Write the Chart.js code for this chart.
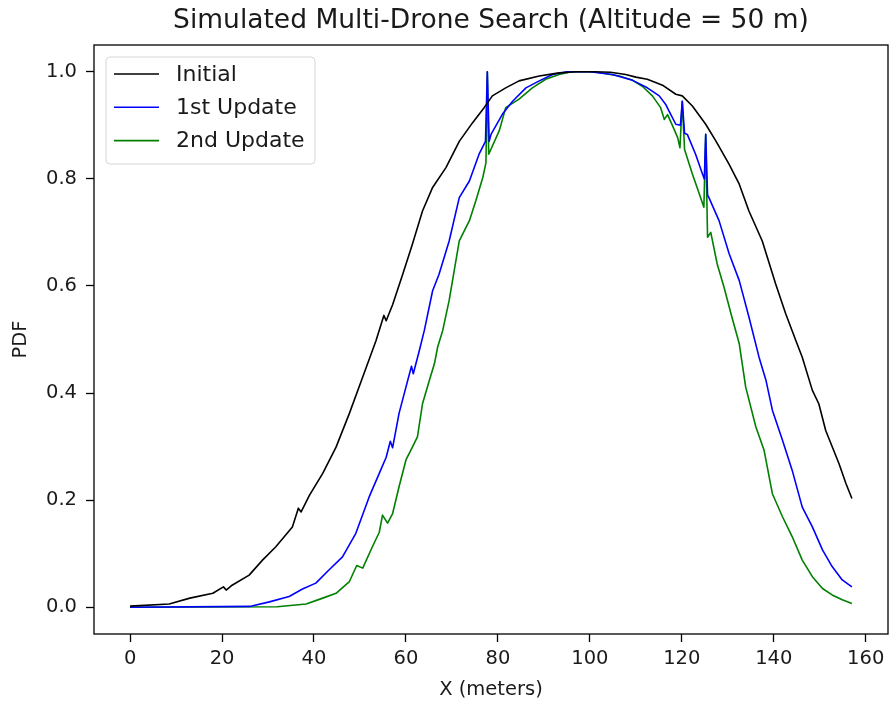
<!DOCTYPE html>
<html>
<head>
<meta charset="utf-8">
<script src="https://cdn.jsdelivr.net/npm/chart.js@4.4.1/dist/chart.umd.min.js"></script>
<style>
  html, body { margin: 0; padding: 0; background: #fff; }
  #wrap { width: 891px; height: 711px; }
</style>
</head>
<body>
<div id="wrap"><canvas id="chart" width="891" height="711"></canvas></div>
<script>
const titleText = "Simulated Multi-Drone Search (Altitude = 50 m)";
const seriesLabels = ["Initial", "1st Update", "2nd Update"];
const xTicks = [0, 20, 40, 60, 80, 100, 120, 140, 160];
const yTicks = [0, 0.2, 0.4, 0.6, 0.8, 1.0];

// Initial (black)
const initialX = [0, 8.5, 13, 18, 20.3, 20.9, 22, 25.9, 28.8, 31.7, 35.3, 36.6, 37.2, 39, 41.9, 44.8,
  47.7, 50.6, 53.5, 55.2, 55.7, 57.1, 59.3, 61.4, 63.6, 65.8, 68.7, 71.6, 74.5, 77, 78.8, 81.7,
  84.6, 89, 93.3, 97, 101, 104.5, 107.8, 110, 112.5, 115.8, 118.7, 120.1, 122.3, 125.2, 127.4,
  130.3, 132.5, 134.6, 137.5, 140.4, 142.6, 144.8, 146.2, 148.4, 149.8, 151.3, 154.2, 155.7, 157];
const initialY = [0.002, 0.006, 0.017, 0.026, 0.038, 0.032, 0.04, 0.06, 0.088, 0.113, 0.15, 0.185, 0.178, 0.209, 0.25, 0.299,
  0.362, 0.43, 0.498, 0.545, 0.535, 0.565, 0.622, 0.678, 0.74, 0.784, 0.821, 0.87, 0.905, 0.933, 0.955, 0.97,
  0.983, 0.992, 0.998, 1.0, 1.0, 0.999, 0.995, 0.99, 0.986, 0.975, 0.958, 0.955, 0.936, 0.902, 0.871,
  0.827, 0.79, 0.74, 0.684, 0.604, 0.548, 0.498, 0.467, 0.405, 0.38, 0.33, 0.268, 0.231, 0.203];

// 1st Update (blue)
const firstX = [0, 26, 30.3, 34.6, 37.5, 40.4, 43.3, 46.2, 49.1, 52, 54.2, 55.7, 56.6, 57.1, 58.5, 60,
  61.2, 61.6, 62.9, 64, 65.8, 67.2, 69.4, 71.6, 73.8, 75.9, 77.3, 77.7, 78.1, 78.5, 81, 83.2,
  86.1, 89, 91.9, 95, 100, 104.9, 109.3, 112.5, 115.1, 116.5, 117.2, 118.7, 119.7, 120.1, 120.6,
  121.2, 123, 124.5, 124.9, 125.2, 125.6, 125.9, 128.1, 130.3, 132.5, 134.6, 136.8, 138.3, 139.7,
  141.9, 144, 146.2, 148.4, 150.6, 152.7, 154.9, 157];
const firstY = [0, 0.0015, 0.01, 0.02, 0.034, 0.045, 0.07, 0.094, 0.138, 0.206, 0.25, 0.28, 0.31, 0.298, 0.362, 0.411,
  0.45, 0.436, 0.479, 0.517, 0.591, 0.622, 0.684, 0.765, 0.796, 0.846, 0.87, 1.0, 0.87, 0.883, 0.921, 0.945,
  0.97, 0.983, 0.995, 1.0, 1.0, 0.995, 0.984, 0.97, 0.955, 0.939, 0.927, 0.902, 0.9, 0.945, 0.885,
  0.883, 0.846, 0.809, 0.8, 0.883, 0.77, 0.765, 0.722, 0.66, 0.61, 0.542, 0.467, 0.424, 0.368,
  0.312, 0.256, 0.187, 0.15, 0.107, 0.076, 0.051, 0.038];

// 2nd Update (green)
const secondX = [0, 32, 38.3, 41.9, 44.8, 47.7, 49.3, 50.6, 52.7, 54.2, 54.9, 56, 57.1, 58.5, 60, 61.4,
  62.5, 63.6, 65.1, 66.2, 66.9, 68, 69.4, 71.6, 73.8, 75.2, 76.7, 77.4, 77.7, 78, 80.3, 81.7,
  84.6, 87.5, 90.4, 93.3, 96, 101, 106.4, 109.3, 111.4, 113.6, 115.4, 116.2, 116.9, 118, 119.1,
  119.6, 120.1, 120.6, 122.3, 123.8, 124.8, 125.2, 125.6, 126.3, 127.7, 129.2, 130.7, 132.5, 133.9,
  136.1, 137.9, 139.7, 141.9, 144, 146.2, 148.4, 150.6, 152.7, 154.9, 157];
const secondY = [0, 0.001, 0.006, 0.017, 0.026, 0.048, 0.078, 0.073, 0.113, 0.14, 0.172, 0.157, 0.175, 0.225, 0.275, 0.299,
  0.318, 0.38, 0.424, 0.455, 0.486, 0.517, 0.573, 0.684, 0.722, 0.759, 0.802, 0.83, 1.0, 0.846, 0.89, 0.933,
  0.949, 0.97, 0.986, 0.995, 1.0, 1.0, 0.992, 0.984, 0.973, 0.955, 0.933, 0.911, 0.92, 0.899, 0.877,
  0.858, 0.945, 0.855, 0.809, 0.772, 0.747, 0.883, 0.691, 0.7, 0.641, 0.597, 0.548, 0.492, 0.411,
  0.337, 0.293, 0.212, 0.169, 0.132, 0.088, 0.057, 0.035, 0.023, 0.014, 0.007];

const FONT = "DejaVu Sans";
const TEXT = "#1a1a1a";

function pts(xs, ys) {
  return xs.map((x, i) => ({ x: x, y: ys[i] }));
}

// frame, title and legend the way matplotlib lays them out
const mplExtras = {
  id: "mplExtras",
  afterDatasetsDraw(chart) {
    const ctx = chart.ctx;
    const a = chart.chartArea;
    ctx.save();
    ctx.strokeStyle = "#000";
    ctx.lineWidth = 1.3;
    ctx.strokeRect(a.left, a.top, a.right - a.left, a.bottom - a.top);

    ctx.fillStyle = TEXT;
    ctx.font = "26.5px '" + FONT + "'";
    ctx.textAlign = "center";
    ctx.textBaseline = "middle";
    ctx.fillText(titleText, (a.left + a.right) / 2, 21);

    // legend
    const bx = a.left + 12, by = a.top + 12, bw = 209, bh = 107;
    ctx.beginPath();
    ctx.roundRect(bx, by, bw, bh, 4);
    ctx.fillStyle = "rgba(255,255,255,0.8)";
    ctx.fill();
    ctx.strokeStyle = "#d6d6d6";
    ctx.lineWidth = 1;
    ctx.stroke();
    ctx.font = "22px '" + FONT + "'";
    ctx.textAlign = "left";
    chart.data.datasets.forEach((ds, i) => {
      const y = by + 17 + i * 33.3;
      ctx.strokeStyle = ds.borderColor;
      ctx.lineWidth = 1.6;
      ctx.beginPath();
      ctx.moveTo(bx + 8, y);
      ctx.lineTo(bx + 53, y);
      ctx.stroke();
      ctx.fillStyle = TEXT;
      ctx.fillText(ds.label, bx + 70, y + 1);
    });
    ctx.restore();
  }
};

new Chart(document.getElementById("chart"), {
  type: "line",
  data: {
    datasets: [
      { label: seriesLabels[0], data: pts(initialX, initialY), borderColor: "#000000" },
      { label: seriesLabels[1], data: pts(firstX, firstY), borderColor: "#0000ff" },
      { label: seriesLabels[2], data: pts(secondX, secondY), borderColor: "#008000" },
    ],
  },
  options: {
    responsive: false,
    animation: false,
    layout: { padding: { top: 45, right: 3, left: 0, bottom: 0 } },
    elements: {
      point: { radius: 0 },
      line: { borderWidth: 1.6, tension: 0, borderJoinStyle: "round", fill: false },
    },
    plugins: {
      legend: { display: false },
      title: { display: false },
      tooltip: { enabled: false },
    },
    scales: {
      x: {
        type: "linear",
        min: -7.85,
        max: 164.85,
        afterFit: (s) => { s.height = 77; },
        afterBuildTicks: (s) => { s.ticks = xTicks.map((v) => ({ value: v })); },
        border: { display: false },
        grid: { drawOnChartArea: false, drawTicks: true, tickLength: 8, tickWidth: 1.3, tickColor: "#000" },
        ticks: { color: TEXT, font: { family: FONT, size: 19.5 }, padding: 5, maxRotation: 0 },
        title: { display: true, text: "X (meters)", color: TEXT, font: { family: FONT, size: 19.5 }, padding: { top: 0, bottom: 9 } },
      },
      y: {
        type: "linear",
        min: -0.05,
        max: 1.05,
        afterFit: (s) => { s.width = 94; },
        afterBuildTicks: (s) => { s.ticks = yTicks.map((v) => ({ value: v })); },
        border: { display: false },
        grid: { drawOnChartArea: false, drawTicks: true, tickLength: 8, tickWidth: 1.3, tickColor: "#000" },
        ticks: { color: TEXT, font: { family: FONT, size: 19.5 }, padding: 9, callback: (v) => v.toFixed(1) },
        title: { display: true, text: "PDF", color: TEXT, font: { family: FONT, size: 19.5 }, padding: { top: 9, bottom: 0 } },
      },
    },
  },
  plugins: [mplExtras],
});
</script>
</body>
</html>
